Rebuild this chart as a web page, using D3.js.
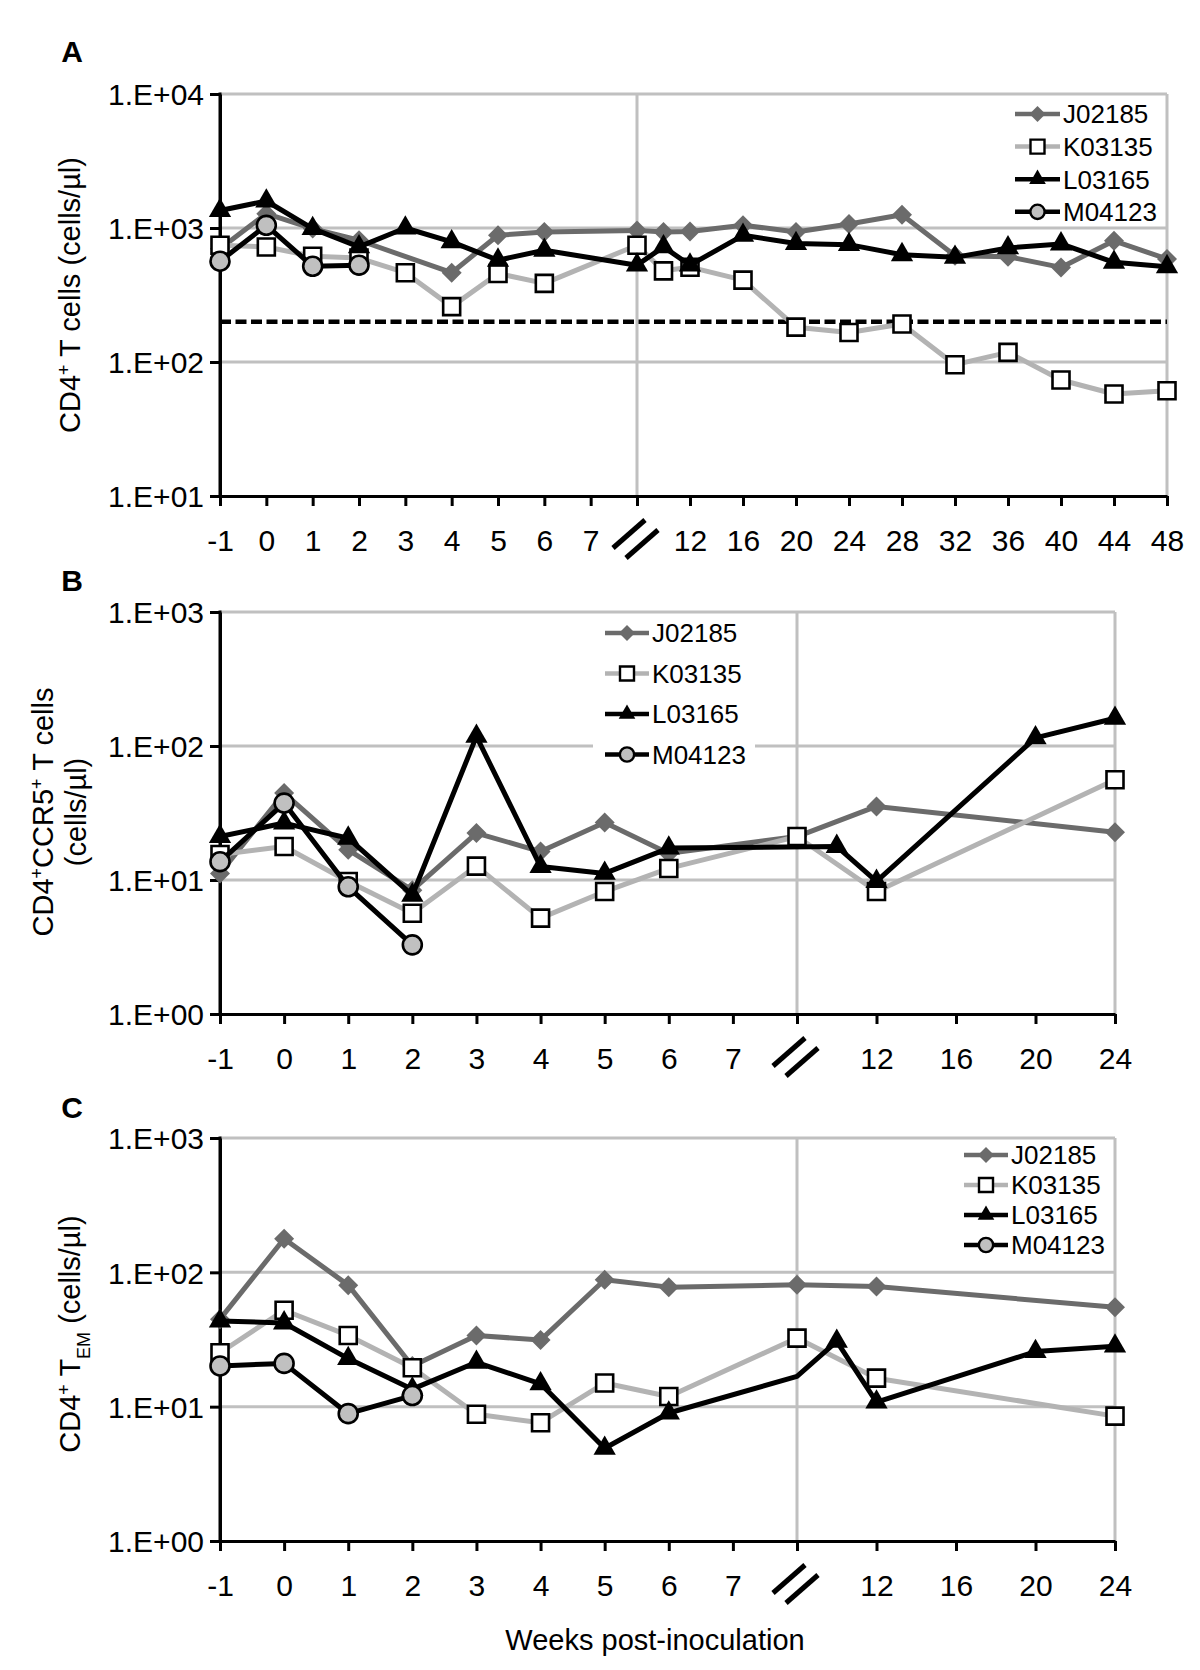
<!DOCTYPE html>
<html><head><meta charset="utf-8">
<script src="https://cdn.jsdelivr.net/npm/d3@7"></script>
<style>body{margin:0;background:#fff} text{font-family:"Liberation Sans",Arial,sans-serif;fill:#000}</style>
</head><body><svg id="c" width="1200" height="1670"></svg>
<script>
// ---------------- DATA ----------------
const seriesNames = ["J02185", "K03135", "L03165", "M04123"];

// Panel A: CD4+ T cells (cells/µl)
const weeksA_J = [-1, 0, 1, 2, 4, 5, 6, 8, 10, 12, 16, 20, 24, 28, 32, 36, 40, 44, 48];
const A_J02185 = [700, 1280, 990, 810, 464, 883, 934, 960, 934, 940, 1050, 934, 1072, 1256, 622, 611, 508, 803, 587];
const weeksA_KL = [-1, 0, 1, 2, 3, 4, 5, 6, 8, 10, 12, 16, 20, 24, 28, 32, 36, 40, 44, 48];
const A_K03135 = [744, 722, 616, 596, 464, 259, 458, 386, 744, 479, 510, 408, 182, 166, 192, 95.5, 118, 73.4, 57.7, 61];
const A_L03165 = [1350, 1590, 990, 723, 1000, 787, 575, 682, 528, 723, 528, 882, 765, 751, 632, 604, 710, 760, 555, 514];
const weeksM = [-1, 0, 1, 2];
const A_M04123 = [565, 1047, 518, 528];
const thresholdA = 200;

// Panel B: CD4+CCR5+ T cells (cells/µl)
const weeksBC_JK = [-1, 0, 1, 2, 3, 4, 5, 6, 8, 12, 24];
const B_J02185 = [11.2, 44.5, 16.8, 8.4, 22.4, 16.3, 26.9, 15.8, 21.1, 35.4, 22.7];
const B_K03135 = [15.5, 17.8, 9.75, 5.65, 12.7, 5.19, 8.2, 12.2, 21.1, 8.2, 56];
const weeksB_L = [-1, 0, 1, 2, 3, 4, 5, 6, 10, 12, 20, 24];
const B_L03165 = [21.1, 26.6, 20.5, 7.7, 118, 12.6, 11.2, 17.3, 17.8, 9.75, 115, 161];
const B_M04123 = [13.7, 37.5, 8.9, 3.28];

// Panel C: CD4+ TEM (cells/µl)
const C_J02185 = [44.8, 178, 80.3, 20.1, 33.9, 31.3, 88, 77.6, 80.7, 78.4, 54.9];
const C_K03135 = [25.2, 52.2, 33.9, 19.5, 8.77, 7.6, 15, 11.9, 32.4, 16.3, 8.5];
const weeksC_L = [-1, 0, 1, 2, 3, 4, 5, 6, 8, 10, 12, 20, 24];
const C_L03165 = [43.4, 42, 22.8, 13.5, 21.4, 14.8, 4.9, 8.97, 16.8, 30.6, 10.8, 25.7, 28.2];
const C_L_noMarkerWeeks = [8];
const C_M04123 = [20.1, 21, 8.87, 12.1];

// Ticks
const xTicksA = [-1, 0, 1, 2, 3, 4, 5, 6, 7, 8, 12, 16, 20, 24, 28, 32, 36, 40, 44, 48];
const xTicksBC = [-1, 0, 1, 2, 3, 4, 5, 6, 7, 8, 12, 16, 20, 24];
const breakWeek = 8;
const yTicksA = [10, 100, 1000, 10000];
const yLabelsA = ["1.E+01", "1.E+02", "1.E+03", "1.E+04"];
const yTicksBC = [1, 10, 100, 1000];
const yLabelsBC = ["1.E+00", "1.E+01", "1.E+02", "1.E+03"];
const xTitle = "Weeks post-inoculation";

// ---------------- STYLE ----------------
const style = {
  J02185: {line: "#6b6b6b", shape: "diamond", fill: "#6b6b6b", stroke: "none"},
  K03135: {line: "#b3b3b3", shape: "square", fill: "#fff", stroke: "#000"},
  L03165: {line: "#000", shape: "triangle", fill: "#000", stroke: "none"},
  M04123: {line: "#000", shape: "circle", fill: "#c0c0c0", stroke: "#000"}
};
const GRID = "#c0c0c0";
const FONT = '"Liberation Sans",Arial,sans-serif';
const svg = d3.select("#c");

function markerPath(shape, big) {
  if (shape === "diamond") { const r = big ? 10 : 8; return `M0,${-r}L${r},0L0,${r}L${-r},0Z`; }
  if (shape === "square") return d3.symbol(d3.symbolSquare, big ? 289 : 196)();
  if (shape === "triangle") return d3.symbol(d3.symbolTriangle, big ? 215 : 120)();
  return d3.symbol(d3.symbolCircle, big ? 283 : 160)();
}

function panel(cfg) {
  const g = svg.append("g");
  const x = d3.scaleLinear().domain(cfg.xDomain).range(cfg.xRange);
  const y = d3.scaleLog().domain(cfg.yDomain).range(cfg.yRange);
  const [x0, x1] = [cfg.xRange[0], cfg.xRange[2]];
  const [yb, yt] = cfg.yRange;

  // gridlines
  cfg.yTicks.slice(1).forEach(t => {
    g.append("line").attr("x1", x0).attr("x2", x1).attr("y1", y(t)).attr("y2", y(t))
      .attr("stroke", GRID).attr("stroke-width", 3);
  });
  [breakWeek, cfg.xDomain[2]].forEach(w => {
    g.append("line").attr("x1", x(w)).attr("x2", x(w)).attr("y1", yt).attr("y2", yb)
      .attr("stroke", GRID).attr("stroke-width", 3);
  });

  // legend background
  const L = cfg.legend;
  g.append("rect").attr("x", L.box[0]).attr("y", L.box[1]).attr("width", L.box[2]).attr("height", L.box[3]).attr("fill", "#fff");

  // axes
  const yAxis = d3.axisLeft(y).tickValues(cfg.yTicks).tickFormat((d, i) => cfg.yLabels[i]).tickSize(10).tickSizeOuter(0).tickPadding(6);
  const ya = g.append("g").attr("transform", `translate(${x0},0)`).call(yAxis);
  const xAxis = d3.axisBottom(x).tickValues(cfg.xTicks).tickFormat(d => d === breakWeek ? "" : d).tickSize(10).tickSizeOuter(0);
  const xa = g.append("g").attr("transform", `translate(0,${yb})`).call(xAxis);
  [ya, xa].forEach(a => {
    a.select(".domain").attr("stroke", "#000").attr("stroke-width", 3);
    a.selectAll(".tick line").attr("stroke", "#000").attr("stroke-width", 3);
    a.selectAll(".tick text").attr("font-size", 30).attr("fill", "#000").style("font-family", FONT);
  });
  xa.selectAll(".tick text").attr("y", 44).attr("dy", "0.36em");
  ya.selectAll(".tick text").attr("dy", "0.36em");
  g.append("line").attr("x1", x0).attr("x2", x0).attr("y1", yt - 1.5).attr("y2", yb + 1.5).attr("stroke", "#000").attr("stroke-width", 3);

  // break mark
  const bx = x(breakWeek), by = yb + 44;
  [[-24, 8, 8, -20], [-11, 18, 21, -10]].forEach(s => {
    g.append("line").attr("x1", bx + s[0]).attr("y1", by + s[1]).attr("x2", bx + s[2]).attr("y2", by + s[3])
      .attr("stroke", "#000").attr("stroke-width", 5);
  });

  // threshold
  if (cfg.threshold) {
    g.append("line").attr("x1", x0).attr("x2", x1).attr("y1", y(cfg.threshold)).attr("y2", y(cfg.threshold))
      .attr("stroke", "#000").attr("stroke-width", 4.5).attr("stroke-dasharray", "11,4.5");
  }

  // series
  const line = d3.line().x(d => x(d.w)).y(d => y(d.v));
  cfg.series.forEach(s => {
    const st = style[s.name];
    const pts = s.weeks.map((w, i) => ({w, v: s.values[i]}));
    g.append("path").attr("d", line(pts)).attr("fill", "none").attr("stroke", st.line)
      .attr("stroke-width", 5).attr("stroke-linejoin", "round");
    const hide = s.noMarker || [];
    g.selectAll(null).data(pts.filter(p => !hide.includes(p.w))).join("path")
      .attr("d", markerPath(st.shape, true))
      .attr("transform", d => `translate(${x(d.w)},${y(d.v)})`)
      .attr("fill", st.fill).attr("stroke", st.stroke).attr("stroke-width", 2.6);
  });

  // legend
  seriesNames.forEach((n, i) => {
    const st = style[n], ly = L.y0 + i * L.dy;
    g.append("line").attr("x1", L.x1).attr("x2", L.x2).attr("y1", ly).attr("y2", ly)
      .attr("stroke", st.line).attr("stroke-width", 4.5);
    g.append("path").attr("d", markerPath(st.shape, false)).attr("transform", `translate(${(L.x1 + L.x2) / 2},${ly})`)
      .attr("fill", st.fill).attr("stroke", st.stroke).attr("stroke-width", 2.4);
    g.append("text").attr("x", L.x2 + 3).attr("y", ly).attr("dy", "0.36em").attr("font-size", 26).text(n);
  });

  // panel letter
  g.append("text").attr("x", cfg.letterPos[0]).attr("y", cfg.letterPos[1]).attr("font-size", 30)
    .attr("font-weight", "bold").attr("text-anchor", "middle").text(cfg.letter);
  return g;
}

panel({
  letter: "A", letterPos: [72, 62],
  xDomain: [-1, breakWeek, 48], xRange: [220, 637, 1167],
  yDomain: [10, 10000], yRange: [496, 94],
  xTicks: xTicksA, yTicks: yTicksA, yLabels: yLabelsA, threshold: thresholdA,
  series: [
    {name: "J02185", weeks: weeksA_J, values: A_J02185},
    {name: "K03135", weeks: weeksA_KL, values: A_K03135},
    {name: "L03165", weeks: weeksA_KL, values: A_L03165},
    {name: "M04123", weeks: weeksM, values: A_M04123}
  ],
  legend: {box: [1005, 97, 158, 128], x1: 1015, x2: 1060, y0: 114, dy: 32.6}
});
panel({
  letter: "B", letterPos: [72, 591],
  xDomain: [-1, breakWeek, 24], xRange: [220, 797, 1115],
  yDomain: [1, 1000], yRange: [1014, 612],
  xTicks: xTicksBC, yTicks: yTicksBC, yLabels: yLabelsBC,
  series: [
    {name: "J02185", weeks: weeksBC_JK, values: B_J02185},
    {name: "K03135", weeks: weeksBC_JK, values: B_K03135},
    {name: "L03165", weeks: weeksB_L, values: B_L03165},
    {name: "M04123", weeks: weeksM, values: B_M04123}
  ],
  legend: {box: [593, 614, 162, 163], x1: 605, x2: 649, y0: 633, dy: 40.5}
});
panel({
  letter: "C", letterPos: [72, 1118],
  xDomain: [-1, breakWeek, 24], xRange: [220, 797, 1115],
  yDomain: [1, 1000], yRange: [1541, 1138],
  xTicks: xTicksBC, yTicks: yTicksBC, yLabels: yLabelsBC,
  series: [
    {name: "J02185", weeks: weeksBC_JK, values: C_J02185},
    {name: "K03135", weeks: weeksBC_JK, values: C_K03135},
    {name: "L03165", weeks: weeksC_L, values: C_L03165, noMarker: C_L_noMarkerWeeks},
    {name: "M04123", weeks: weeksM, values: C_M04123}
  ],
  legend: {box: [954, 1141, 158, 124], x1: 964, x2: 1008, y0: 1155, dy: 30}
});

// axis titles
function vtext(xp, yp, parts) {
  const t = svg.append("text").attr("transform", `translate(${xp},${yp}) rotate(-90)`)
    .attr("text-anchor", "middle").attr("font-size", 29);
  parts.forEach(p => {
    const ts = t.append("tspan").text(p.t);
    if (p.sup) ts.attr("font-size", 18).attr("baseline-shift", "super");
    if (p.sub) ts.attr("font-size", 18).attr("baseline-shift", "sub");
  });
}
vtext(80, 295, [{t: "CD4"}, {t: "+", sup: 1}, {t: " T cells (cells/µl)"}]);
vtext(53, 812, [{t: "CD4"}, {t: "+", sup: 1}, {t: "CCR5"}, {t: "+", sup: 1}, {t: " T cells"}]);
vtext(86, 812, [{t: "(cells/µl)"}]);
vtext(80, 1334, [{t: "CD4"}, {t: "+", sup: 1}, {t: " T"}, {t: "EM", sub: 1}, {t: " (cells/µl)"}]);
svg.append("text").attr("x", 655).attr("y", 1640).attr("dy", "0.36em").attr("text-anchor", "middle")
  .attr("font-size", 29).text(xTitle);
</script></body></html>
